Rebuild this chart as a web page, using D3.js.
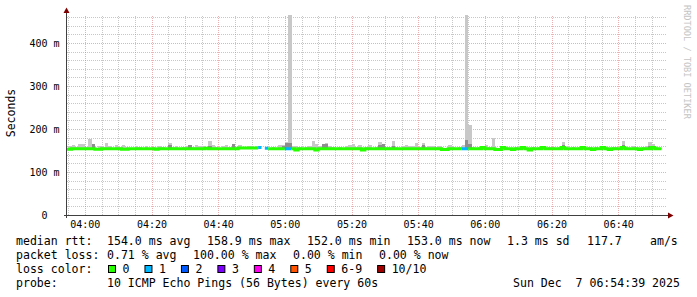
<!DOCTYPE html>
<html>
<head>
<meta charset="utf-8">
<script src="https://cdn.jsdelivr.net/npm/d3@7"></script>
<style>
    body { margin: 0; background: #fff; }
    svg { display: block; }
    text { font-family: "DejaVu Sans Mono", monospace; fill: #000; }
</style>
</head>
<body>
<div class="c-chart"></div>
<script>
// one value per 60s step, first step starts 03:54
var median = [
    153,153,154,154,154,154,154,154,154,153,153,154,154,154,154,154,154,153,153,154,
    154,154,154,154,154,154,154,153,154,154,154,154,154,154,154,154,154,154,154,154,
    154,154,155,154,154,154,154,154,154,154,154,154,156,156,156,156,156,156,157,null,
    155,154,154,154,154,154,154,154,154,151,154,154,154,154,154,151,154,154,154,154,
    154,154,154,154,154,154,154,154,154,151,154,154,154,154,154,154,154,154,154,154,
    154,154,154,154,154,154,154,154,154,154,154,154,154,152,152,154,154,154,154,154,
    154,154,154,154,154,157,154,154,154,152,152,157,154,154,152,154,154,157,154,151,
    154,154,154,157,154,154,154,154,154,157,154,154,154,154,154,157,154,154,152,154,
    154,157,154,152,154,154,154,157,154,154,154,154,152,154,154,154,157,154,154
];
var smokeTop = [
    156,161,163,157,164,165,157,177,164,156,160,157,168,160,156,163,157,163,158,156,
    156,160,157,156,160,156,159,156,160,157,156,168,157,160,156,157,160,162,157,162,
    160,161,157,172,163,158,156,160,163,157,164,157,163,158,157,160,157,161,160,156,
    157,156,157,156,163,163,170,465,160,161,157,156,157,160,171,164,160,165,167,161,
    157,156,157,156,160,162,165,157,162,156,157,162,156,157,170,165,157,157,171,157,
    156,160,162,161,161,167,157,168,157,161,160,157,160,156,156,162,157,156,157,163,
    465,209,157,156,157,160,162,157,180,156,156,160,157,156,156,157,156,159,156,156,
    157,156,157,160,156,157,158,156,157,170,157,156,158,156,157,160,156,157,156,157,
    156,160,157,156,159,157,156,172,157,156,160,157,156,157,161,170,165,157,156
];
var smokeMid = [
    0,0,0,0,0,0,0,0,164,0,0,0,0,0,0,0,0,0,0,0,
    0,0,0,0,0,0,0,0,0,0,0,162,0,0,0,0,0,162,0,0,
    0,0,0,160,0,0,0,0,0,0,164,0,0,0,0,0,0,0,0,0,
    0,0,0,0,0,160,167,167,0,0,0,0,0,0,0,0,0,165,166,0,
    0,0,0,0,0,0,0,0,0,0,0,0,0,0,162,165,0,0,160,0,
    0,0,0,0,0,0,0,162,0,0,0,0,0,0,0,0,0,0,0,0,
    175,165,0,0,0,158,0,0,0,0,0,158,0,0,0,0,0,158,0,0,
    0,0,0,158,0,0,0,0,0,162,0,0,0,0,0,158,0,0,0,0,
    0,158,0,0,0,0,0,163,0,0,0,0,0,0,0,160,158,0,0
];
var lossCount = [
    0,0,0,0,0,0,0,0,0,0,0,0,0,0,0,0,0,0,0,0,
    0,0,0,0,0,0,0,0,0,0,0,0,0,0,0,0,0,0,0,0,
    0,0,0,0,0,0,0,0,0,0,0,0,0,0,0,0,0,0,1,0,
    1,0,0,0,0,0,1,1,0,0,0,0,0,0,0,0,0,0,0,0,
    0,0,0,0,0,0,0,0,0,0,0,0,0,0,0,0,0,0,0,0,
    0,0,0,0,0,0,0,0,0,0,0,0,0,0,0,0,0,0,0,1,
    1,0,0,0,0,0,0,0,0,0,0,0,0,0,0,0,0,0,0,0,
    0,0,0,0,0,0,0,0,0,0,0,0,0,0,0,0,0,0,0,0,
    0,0,0,0,0,0,0,0,0,0,0,0,0,0,0,0,0,0,0
];

var lossLabels = ["0", "1", "2", "3", "4", "5", "6-9", "10/10"];
var lossColors = ["#26ff00", "#00b8ff", "#0059ff", "#7e00ff", "#ff00f0", "#ff5500", "#ff0000", "#a10000"];

var yTicks = [0, 100, 200, 300, 400];
var yTickLabels = ["0", "100 m", "200 m", "300 m", "400 m"];
var xTickLabels = ["04:00", "04:20", "04:40", "05:00", "05:20", "05:40", "06:00", "06:20", "06:40"];

var legendRtt = ["median rtt:", "154.0 ms avg", "158.9 ms max", "152.0 ms min", "153.0 ms now", "1.3 ms sd", "117.7", "am/s"];
var legendLoss = ["packet loss:", "0.71 % avg", "100.00 % max", "0.00 % min", "0.00 % now"];
var legendProbe = ["probe:", "10 ICMP Echo Pings (56 Bytes) every 60s", "Sun Dec  7 06:54:39 2025"];

var startTime = new Date(2025, 11, 7, 3, 54, 39);
var endTime = new Date(2025, 11, 7, 6, 54, 39);
var firstStep = new Date(2025, 11, 7, 3, 54, 0);

var W = 697, H = 297;
var plot = { left: 67, right: 667, top: 15, bottom: 215 };

var parseHM = d3.timeParse("%Y-%m-%d %H:%M");

var xScale = d3.scaleTime()
    .domain([startTime, endTime])
    .range([plot.left, plot.right]);

var yScale = d3.scaleLinear()
    .domain([0, d3.max(smokeTop)])
    .range([plot.bottom, plot.top]);

function lossClass(n) {
    if (n <= 5) return n;
    if (n < 10) return 6;
    return 7;
}

var steps = median.map(function (m, i) {
    return {
        t0: d3.timeMinute.offset(firstStep, i),
        t1: d3.timeMinute.offset(firstStep, i + 1),
        median: m,
        top: smokeTop[i],
        mid: smokeMid[i],
        c: lossClass(lossCount[i])
    };
});

var svg = d3.select(".c-chart")
    .append("svg")
    .attr("width", W)
    .attr("height", H);

svg.append("rect").attr("width", W).attr("height", H).attr("fill", "#fff");

svg.append("defs").append("clipPath").attr("id", "plotclip")
    .append("rect")
    .attr("x", plot.left).attr("y", plot.top)
    .attr("width", plot.right - plot.left)
    .attr("height", plot.bottom - plot.top);

// grid
var minorTimes = d3.timeMinute.every(5).range(startTime, endTime)
    .filter(function (d) { return d.getMinutes() % 20 !== 0; });
var majorTimes = xTickLabels.map(function (s) { return parseHM("2025-12-07 " + s); });
var minorVals = d3.range(20, yScale.domain()[1], 20).filter(function (v) { return v % 100 !== 0; });
var majorVals = yTicks.filter(function (v) { return v > 0; });

function gridX(times, cls, colour) {
    svg.append("g")
        .attr("class", cls)
        .attr("transform", "translate(0," + plot.bottom + ")")
        .call(d3.axisBottom(xScale).tickValues(times).tickSize(-(plot.bottom - plot.top)).tickFormat(""))
        .call(function (g) { g.select(".domain").remove(); })
        .selectAll("line")
        .attr("stroke", colour)
        .attr("stroke-dasharray", "1,1")
        .attr("shape-rendering", "crispEdges");
}

function gridY(vals, cls, colour) {
    svg.append("g")
        .attr("class", cls)
        .attr("transform", "translate(" + plot.left + ",0)")
        .call(d3.axisLeft(yScale).tickValues(vals).tickSize(-(plot.right - plot.left)).tickFormat(""))
        .call(function (g) { g.select(".domain").remove(); })
        .selectAll("line")
        .attr("stroke", colour)
        .attr("stroke-dasharray", "1,1")
        .attr("shape-rendering", "crispEdges");
}

gridX(minorTimes, "grid-x-minor", "rgba(143,143,143,0.5)");
gridY(minorVals, "grid-y-minor", "rgba(143,143,143,0.5)");
gridX(majorTimes, "grid-x-major", "rgba(220,110,110,0.55)");
gridY(majorVals, "grid-y-major", "rgba(220,110,110,0.55)");

// smoke
var data = svg.append("g").attr("clip-path", "url(#plotclip)");

data.selectAll(".smoke-top")
    .data(steps.filter(function (d) { return d.median != null && d.top > d.median; }))
    .enter().append("rect")
    .attr("class", "smoke-top")
    .attr("x", function (d) { return xScale(d.t0); })
    .attr("width", function (d) { return xScale(d.t1) - xScale(d.t0); })
    .attr("y", function (d) { return yScale(d.top); })
    .attr("height", function (d) { return yScale(d.median) - yScale(d.top); })
    .attr("fill", "#c8c8c8")
    .attr("shape-rendering", "crispEdges");

data.selectAll(".smoke-mid")
    .data(steps.filter(function (d) { return d.median != null && d.mid > d.median; }))
    .enter().append("rect")
    .attr("class", "smoke-mid")
    .attr("x", function (d) { return xScale(d.t0); })
    .attr("width", function (d) { return xScale(d.t1) - xScale(d.t0); })
    .attr("y", function (d) { return yScale(d.mid); })
    .attr("height", function (d) { return yScale(d.median) - yScale(d.mid); })
    .attr("fill", "#8e8e8e")
    .attr("shape-rendering", "crispEdges");

// median line, one path per loss colour
var pts = [];
steps.forEach(function (s) {
    pts.push({ t: s.t0, v: s.median, c: s.c });
    pts.push({ t: s.t1, v: s.median, c: s.c });
});

lossColors.forEach(function (col, k) {
    var line = d3.line()
        .defined(function (d) { return d.v != null && d.c === k; })
        .x(function (d) { return xScale(d.t); })
        .y(function (d) { return yScale(d.v); });
    data.append("path")
        .attr("class", "c-line")
        .attr("d", line(pts))
        .attr("fill", "none")
        .attr("stroke", col)
        .attr("stroke-width", 3)
        .attr("stroke-linecap", "butt");
});

// axes
var xAxis = svg.append("g")
    .attr("class", "x-axis")
    .attr("transform", "translate(0," + plot.bottom + ")")
    .call(d3.axisBottom(xScale).tickValues(majorTimes).tickSize(0).tickPadding(6)
        .tickFormat(d3.timeFormat("%H:%M")));
xAxis.select(".domain").remove();
xAxis.selectAll("text").attr("font-size", 10).attr("font-family", "DejaVu Sans Mono");

var yAxis = svg.append("g")
    .attr("class", "y-axis")
    .attr("transform", "translate(" + plot.left + ",0)")
    .call(d3.axisLeft(yScale).tickValues(yTicks).tickSize(0).tickPadding(7.5)
        .tickFormat(function (d, i) { return yTickLabels[i]; }));
yAxis.select(".domain").remove();
yAxis.selectAll("text").attr("font-size", 10).attr("font-family", "DejaVu Sans Mono")
    .attr("dx", function (d) { return d === 0 ? -12 : 0; });

svg.append("line")
    .attr("x1", 66.5).attr("x2", 66.5).attr("y1", 218).attr("y2", 12)
    .attr("stroke", "#404040");
svg.append("line")
    .attr("x1", 64).attr("x2", 669).attr("y1", 215.5).attr("y2", 215.5)
    .attr("stroke", "#404040");
svg.append("path")
    .attr("d", "M66.5,7.5L63.5,13L69.5,13Z")
    .attr("fill", "#7f0000");
svg.append("path")
    .attr("d", "M673.5,215.5L668,212.5L668,218.5Z")
    .attr("fill", "#7f0000");

svg.append("text")
    .attr("transform", "translate(15,113) rotate(-90)")
    .attr("text-anchor", "middle")
    .attr("font-size", 11.5)
    .text("Seconds");

svg.append("text")
    .attr("transform", "translate(684,5) rotate(90)")
    .attr("font-size", 8.6)
    .style("fill", "#c4c4c4")
    .text("RRDTOOL / TOBI OETIKER");

// legend
var legend = svg.append("g").attr("class", "legend").attr("font-size", 11.55);

function legendRow(items, xs, y) {
    legend.selectAll(null)
        .data(items)
        .enter().append("text")
        .attr("x", function (d, i) { return xs[i]; })
        .attr("y", y)
        .attr("xml:space", "preserve")
        .style("white-space", "pre")
        .text(function (d) { return d; });
}

legendRow(legendRtt, [16, 107, 207, 307, 407, 507, 587, 650], 245);
legendRow(legendLoss, [16, 107, 193, 293, 379], 259);
legendRow(["loss color:"], [16], 273);
legendRow(legendProbe, [16, 107, 513], 287);

var bx = 108;
lossLabels.forEach(function (lab, i) {
    legend.append("rect")
        .attr("x", bx + 0.5).attr("y", 265.5)
        .attr("width", 7).attr("height", 7)
        .attr("fill", lossColors[i])
        .attr("stroke", "#000");
    legend.append("text")
        .attr("x", bx + 14.5).attr("y", 273)
        .text(lab);
    bx = bx + 14.5 + lab.length * 6.96 + 15;
});
</script>
</body>
</html>
